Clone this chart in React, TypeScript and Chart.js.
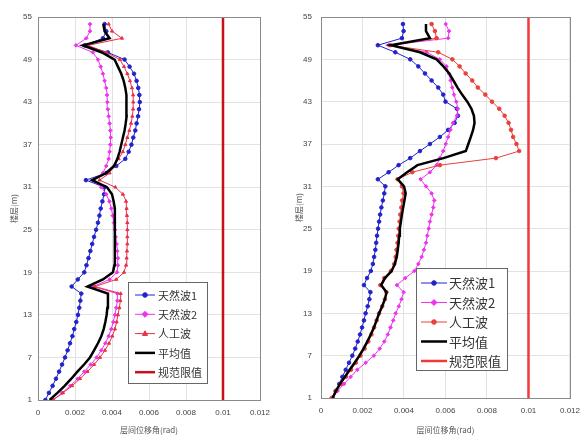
import React, { useEffect, useRef } from 'react';
import { Chart, registerables } from 'chart.js';
Chart.register(...registerables);

// ---------- data ----------
const floors = [1, 2, 3, 4, 5, 6, 7, 8, 9, 10, 11, 12, 13, 14, 15, 16, 17, 18, 19, 20, 21, 22, 23, 24, 25, 26, 27, 28, 29, 30, 31, 32, 33, 34, 35, 36, 37, 38, 39, 40, 41, 42, 43, 44, 45, 46, 47, 48, 49, 50, 51, 52, 53, 54];
const yTickLabels = ['1', '7', '13', '19', '25', '31', '37', '43', '49', '55'];
const xTickLabels = ['0', '0.002', '0.004', '0.006', '0.008', '0.01', '0.012'];
const seriesNames = ['天然波1', '天然波2', '人工波', '平均值', '规范限值'];
const limitValue = 0.01;
const limitFloors = [1, 55];
const xTitle = '层间位移角(rad)';
const yTitle = '楼层(m)';

// left panel
const leftWave1 = [0.00040, 0.00059, 0.00079, 0.00097, 0.00114, 0.00130, 0.00146, 0.00160, 0.00173, 0.00186, 0.00196, 0.00207, 0.00216, 0.00223, 0.00229, 0.00234, 0.00182, 0.00215, 0.00250, 0.00262, 0.00273, 0.00283, 0.00293, 0.00303, 0.00314, 0.00324, 0.00332, 0.00339, 0.00348, 0.00357, 0.00360, 0.00259, 0.00369, 0.00423, 0.00472, 0.00490, 0.00505, 0.00515, 0.00526, 0.00533, 0.00541, 0.00546, 0.00550, 0.00548, 0.00542, 0.00533, 0.00519, 0.00495, 0.00468, 0.00378, 0.00252, 0.00351, 0.00369, 0.00360];
const leftWave2 = [0.00081, 0.00130, 0.00175, 0.00214, 0.00250, 0.00285, 0.00317, 0.00342, 0.00364, 0.00382, 0.00396, 0.00407, 0.00416, 0.00423, 0.00429, 0.00429, 0.00299, 0.00387, 0.00427, 0.00432, 0.00432, 0.00429, 0.00425, 0.00420, 0.00416, 0.00411, 0.00404, 0.00396, 0.00386, 0.00369, 0.00342, 0.00303, 0.00351, 0.00369, 0.00382, 0.00387, 0.00391, 0.00393, 0.00391, 0.00387, 0.00382, 0.00378, 0.00375, 0.00373, 0.00369, 0.00360, 0.00351, 0.00339, 0.00324, 0.00297, 0.00205, 0.00261, 0.00281, 0.00281];
const leftArtificial = [0.00081, 0.00135, 0.00184, 0.00227, 0.00267, 0.00303, 0.00335, 0.00362, 0.00384, 0.00402, 0.00416, 0.00425, 0.00432, 0.00440, 0.00445, 0.00447, 0.00308, 0.00423, 0.00465, 0.00476, 0.00479, 0.00481, 0.00483, 0.00483, 0.00483, 0.00483, 0.00481, 0.00479, 0.00476, 0.00459, 0.00418, 0.00333, 0.00387, 0.00411, 0.00436, 0.00459, 0.00472, 0.00483, 0.00494, 0.00503, 0.00510, 0.00514, 0.00515, 0.00514, 0.00508, 0.00497, 0.00483, 0.00465, 0.00443, 0.00369, 0.00270, 0.00454, 0.00400, 0.00382];
const leftAverage = [0.00063, 0.00105, 0.00144, 0.00180, 0.00213, 0.00249, 0.00281, 0.00303, 0.00324, 0.00342, 0.00355, 0.00364, 0.00371, 0.00375, 0.00378, 0.00378, 0.00267, 0.00351, 0.00405, 0.00413, 0.00416, 0.00416, 0.00416, 0.00416, 0.00416, 0.00416, 0.00414, 0.00413, 0.00409, 0.00400, 0.00373, 0.00292, 0.00369, 0.00411, 0.00429, 0.00441, 0.00450, 0.00459, 0.00468, 0.00474, 0.00479, 0.00479, 0.00479, 0.00476, 0.00472, 0.00463, 0.00450, 0.00432, 0.00414, 0.00346, 0.00243, 0.00387, 0.00360, 0.00353];

// right panel
const rightWave1 = [0.00056, 0.00072, 0.00088, 0.00103, 0.00119, 0.00135, 0.00151, 0.00165, 0.00177, 0.00188, 0.00198, 0.00207, 0.00215, 0.00225, 0.00233, 0.00238, 0.00207, 0.00222, 0.00240, 0.00250, 0.00256, 0.00262, 0.00266, 0.00270, 0.00275, 0.00280, 0.00285, 0.00291, 0.00298, 0.00305, 0.00310, 0.00274, 0.00326, 0.00374, 0.00430, 0.00477, 0.00525, 0.00573, 0.00613, 0.00644, 0.00660, 0.00655, 0.00600, 0.00589, 0.00565, 0.00533, 0.00501, 0.00469, 0.00430, 0.00358, 0.00274, 0.00390, 0.00398, 0.00395];
const rightWave2 = [0.00056, 0.00080, 0.00111, 0.00143, 0.00175, 0.00215, 0.00255, 0.00283, 0.00305, 0.00322, 0.00335, 0.00348, 0.00360, 0.00375, 0.00388, 0.00398, 0.00366, 0.00406, 0.00450, 0.00469, 0.00485, 0.00496, 0.00506, 0.00512, 0.00519, 0.00525, 0.00533, 0.00541, 0.00546, 0.00533, 0.00506, 0.00480, 0.00525, 0.00557, 0.00573, 0.00589, 0.00601, 0.00613, 0.00624, 0.00636, 0.00655, 0.00660, 0.00652, 0.00641, 0.00633, 0.00625, 0.00616, 0.00605, 0.00573, 0.00509, 0.00326, 0.00613, 0.00617, 0.00601];
const rightArtificial = [0.00051, 0.00070, 0.00095, 0.00120, 0.00145, 0.00168, 0.00190, 0.00210, 0.00228, 0.00243, 0.00256, 0.00268, 0.00280, 0.00295, 0.00308, 0.00315, 0.00286, 0.00305, 0.00337, 0.00353, 0.00360, 0.00364, 0.00369, 0.00372, 0.00375, 0.00379, 0.00382, 0.00387, 0.00391, 0.00398, 0.00390, 0.00369, 0.00440, 0.00573, 0.00843, 0.00955, 0.00942, 0.00926, 0.00916, 0.00904, 0.00885, 0.00859, 0.00824, 0.00792, 0.00756, 0.00729, 0.00697, 0.00668, 0.00633, 0.00565, 0.00334, 0.00557, 0.00549, 0.00533];
const rightAverage = [0.00056, 0.00072, 0.00092, 0.00115, 0.00138, 0.00162, 0.00185, 0.00205, 0.00223, 0.00240, 0.00255, 0.00268, 0.00280, 0.00295, 0.00308, 0.00316, 0.00290, 0.00308, 0.00340, 0.00356, 0.00365, 0.00370, 0.00374, 0.00377, 0.00380, 0.00385, 0.00390, 0.00396, 0.00402, 0.00408, 0.00400, 0.00370, 0.00415, 0.00465, 0.00590, 0.00698, 0.00710, 0.00722, 0.00733, 0.00740, 0.00737, 0.00725, 0.00705, 0.00680, 0.00658, 0.00638, 0.00618, 0.00590, 0.00557, 0.00477, 0.00337, 0.00525, 0.00506, 0.00506];

// ---------- helpers ----------
const toPoints = (vals: number[]) => vals.map((v, i) => ({ x: v, y: floors[i] }));
const limitPoints = () => limitFloors.map((f) => ({ x: limitValue, y: f }));

function drawMarker(ctx: CanvasRenderingContext2D, style: string, r: number, x: number, y: number) {
  ctx.beginPath();
  if (style === 'triangle') {
    ctx.moveTo(x, y - r * 1.2);
    ctx.lineTo(x + r * 1.1, y + r * 0.8);
    ctx.lineTo(x - r * 1.1, y + r * 0.8);
    ctx.closePath();
  } else if (style === 'rectRot') {
    ctx.moveTo(x, y - r * 1.3);
    ctx.lineTo(x + r * 1.3, y);
    ctx.lineTo(x, y + r * 1.3);
    ctx.lineTo(x - r * 1.3, y);
    ctx.closePath();
  } else {
    ctx.arc(x, y, r, 0, Math.PI * 2);
  }
  ctx.fill();
  ctx.stroke();
}

const frameLegendPlugin = {
  id: 'frameLegend',
  afterDraw(chart: any, _args: any, opts: any) {
    const { ctx, chartArea: a } = chart;
    ctx.save();
    ctx.strokeStyle = '#8a8a8a';
    ctx.lineWidth = 1;
    ctx.strokeRect(Math.round(a.left) + 0.5, Math.round(a.top) + 0.5, Math.round(a.right - a.left), Math.round(a.bottom - a.top));
    // legend box
    const L = opts;
    ctx.fillStyle = '#ffffff';
    ctx.fillRect(L.x, L.y, L.w, L.h);
    ctx.strokeStyle = '#666666';
    ctx.lineWidth = 1;
    ctx.strokeRect(L.x + 0.5, L.y + 0.5, L.w, L.h);
    ctx.font = `${L.fontSize}px "Noto Sans CJK SC", sans-serif`;
    ctx.textBaseline = 'middle';
    ctx.textAlign = 'left';
    chart.data.datasets.forEach((ds: any, i: number) => {
      const cy = L.y + L.firstRow + i * L.rowH;
      const x0 = L.x + L.lineStart;
      ctx.strokeStyle = ds.borderColor;
      ctx.lineWidth = ds.borderWidth;
      ctx.beginPath();
      ctx.moveTo(x0, cy);
      ctx.lineTo(x0 + L.lineLen, cy);
      ctx.stroke();
      if (ds.pointRadius > 0) {
        ctx.fillStyle = ds.pointBackgroundColor;
        ctx.strokeStyle = ds.borderColor;
        ctx.lineWidth = 1;
        drawMarker(ctx, ds.pointStyle, ds.pointRadius + 0.5, x0 + L.lineLen / 2, cy);
      }
      ctx.fillStyle = '#333333';
      ctx.fillText(ds.label, L.x + L.textX, cy + 0.5);
    });
    ctx.restore();
  },
};

type Panel = {
  wave1: number[];
  wave2: number[];
  artificial: number[];
  average: number[];
  width: number;
  yAxisWidth: number;
  xAxisHeight: number;
  padRight: number;
  yTickPad: number;
  yTitlePad: number;
  artificialStyle: string;
  artColor: string;
  limitColor: string;
  legend: any;
};

function buildConfig(p: Panel): any {
  const line = (label: string, vals: number[], color: string, style: string, order: number) => ({
    label,
    data: toPoints(vals),
    showLine: true,
    borderColor: color,
    backgroundColor: color,
    pointBackgroundColor: color,
    pointBorderColor: color,
    borderWidth: 1,
    pointRadius: 1.8,
    pointBorderWidth: 1,
    pointStyle: style,
    tension: 0,
    order,
  });
  return {
    type: 'scatter',
    data: {
      datasets: [
        line(seriesNames[0], p.wave1, '#2222cc', 'circle', 3),
        line(seriesNames[1], p.wave2, '#ee33ee', 'rectRot', 2),
        line(seriesNames[2], p.artificial, p.artColor, p.artificialStyle, 1),
        {
          label: seriesNames[3],
          data: toPoints(p.average),
          showLine: true,
          borderColor: '#000000',
          backgroundColor: '#000000',
          borderWidth: 2.5,
          pointRadius: 0,
          tension: 0,
          order: 0,
        },
        {
          label: seriesNames[4],
          data: limitPoints(),
          showLine: true,
          borderColor: p.limitColor,
          backgroundColor: p.limitColor,
          borderWidth: 2.5,
          pointRadius: 0,
          order: 4,
        },
      ],
    },
    options: {
      animation: false,
      responsive: false,
      devicePixelRatio: 1,
      layout: { padding: { left: 0, top: 17, right: p.padRight, bottom: 0 } },
      plugins: {
        legend: { display: false },
        tooltip: { enabled: false },
        frameLegend: p.legend,
      },
      scales: {
        x: {
          type: 'linear',
          min: 0,
          max: 0.012,
          afterFit: (s: any) => { s.height = p.xAxisHeight; },
          ticks: {
            stepSize: 0.002,
            autoSkip: false,
            maxRotation: 0,
            padding: 8,
            color: '#444',
            font: { family: '"Liberation Sans", Arial, sans-serif', size: 8 },
            callback: (_v: any, i: number) => xTickLabels[i],
          },
          grid: { color: '#e2e2e2', lineWidth: 1, drawTicks: false },
          border: { display: true, color: '#8a8a8a' },
          title: {
            display: true,
            text: xTitle,
            color: '#555',
            font: { family: '"Noto Sans CJK SC", sans-serif', size: 8 },
            padding: { top: 0, bottom: 0 },
          },
        },
        y: {
          type: 'linear',
          min: 1,
          max: 55,
          afterFit: (s: any) => { s.width = p.yAxisWidth; },
          ticks: {
            stepSize: 6,
            autoSkip: false,
            padding: p.yTickPad,
            color: '#444',
            font: { family: '"Liberation Sans", Arial, sans-serif', size: 8 },
            callback: (_v: any, i: number) => yTickLabels[i],
          },
          grid: { color: '#e2e2e2', lineWidth: 1, drawTicks: false },
          border: { display: true, color: '#8a8a8a' },
          title: {
            display: true,
            text: yTitle,
            color: '#555',
            font: { family: '"Noto Sans CJK SC", sans-serif', size: 8 },
            padding: { top: p.yTitlePad, bottom: 0 },
          },
        },
      },
    },
    plugins: [frameLegendPlugin],
  };
}

const leftPanel: Panel = {
  wave1: leftWave1,
  wave2: leftWave2,
  artificial: leftArtificial,
  average: leftAverage,
  width: 290,
  yAxisWidth: 38,
  xAxisHeight: 35,
  padRight: 30,
  yTickPad: 6,
  yTitlePad: 9,
  artificialStyle: 'triangle',
  artColor: '#e8304a',
  limitColor: '#c81018',
  legend: { x: 128, y: 282, w: 79, h: 101, firstRow: 13, rowH: 19.3, lineStart: 7, lineLen: 20, textX: 30, fontSize: 11 },
};

const rightPanel: Panel = {
  wave1: rightWave1,
  wave2: rightWave2,
  artificial: rightArtificial,
  average: rightAverage,
  width: 294,
  yAxisWidth: 27,
  xAxisHeight: 37,
  padRight: 16,
  yTickPad: 9,
  yTitlePad: 0,
  artificialStyle: 'circle',
  artColor: '#e8403a',
  limitColor: '#f03a3a',
  legend: { x: 122, y: 268, w: 91, h: 102, firstRow: 15, rowH: 19.5, lineStart: 5, lineLen: 26, textX: 33, fontSize: 13 },
};

function DriftChart({ panel, left }: { panel: Panel; left: number }) {
  const ref = useRef<HTMLCanvasElement | null>(null);
  useEffect(() => {
    if (!ref.current) return;
    const chart = new Chart(ref.current, buildConfig(panel));
    return () => chart.destroy();
  }, [panel]);
  return (
    <canvas
      ref={ref}
      width={panel.width}
      height={435}
      style={{ position: 'absolute', left, top: 0, width: panel.width, height: 435 }}
    />
  );
}

export default function App() {
  return (
    <div style={{ position: 'absolute', left: 0, top: 0, width: 588, height: 435, background: '#ffffff', overflow: 'hidden' }}>
      <DriftChart panel={leftPanel} left={0} />
      <DriftChart panel={rightPanel} left={294} />
    </div>
  );
}
